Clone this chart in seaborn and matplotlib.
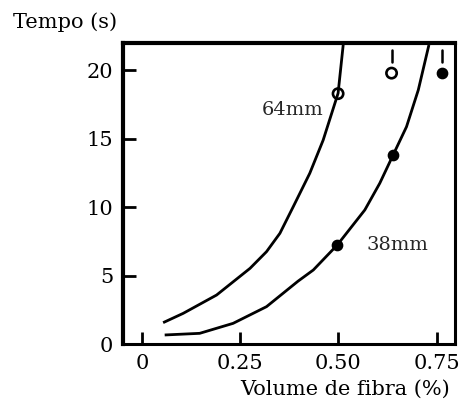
import matplotlib
matplotlib.use("Agg")
import matplotlib.pyplot as plt
import seaborn as sns
import pandas as pd

# ---- data ----
curve64_x = [0.054, 0.105, 0.190, 0.275, 0.317, 0.351, 0.385, 0.427, 0.461, 0.499, 0.512]
curve64_y = [1.56, 2.24, 3.58, 5.53, 6.75, 8.09, 10.04, 12.48, 14.9, 18.33, 21.86]
curve38_x = [0.058, 0.147, 0.232, 0.317, 0.397, 0.436, 0.497, 0.567, 0.605, 0.639, 0.673, 0.703, 0.730]
curve38_y = [0.66, 0.78, 1.51, 2.73, 4.59, 5.41, 7.24, 9.80, 11.75, 13.82, 15.88, 18.57, 21.86]

pts64_x = [0.499, 0.635]
pts64_y = [18.3, 19.8]
pts64_above = [False, True]
pts38_x = [0.497, 0.639, 0.762]
pts38_y = [7.24, 13.82, 19.8]
pts38_above = [False, False, True]

xticks = [0, 0.25, 0.50, 0.75]
xticklabels = ["0", "0.25", "0.50", "0.75"]
yticks = [0, 5, 10, 15, 20]
yticklabels = ["0", "5", "10", "15", "20"]

label64 = "64mm"
label38 = "38mm"
xlabel = "Volume de fibra (%)"
ylabel = "Tempo (s)"

# ---- figure ----
sns.set_theme(style="white")
plt.rcParams["font.family"] = ["DejaVu Serif", "DejaVu Sans"]

fig = plt.figure(figsize=(4.59, 4.04), dpi=100)
ax = fig.add_axes([0.268, 0.1485, 0.723, 0.745])

c64 = pd.DataFrame({"x": curve64_x, "y": curve64_y})
c38 = pd.DataFrame({"x": curve38_x, "y": curve38_y})
for c in (c64, c38):
    sns.lineplot(data=c, x="x", y="y", sort=False, color="black", lw=2.0, ax=ax,
                 solid_joinstyle="round", solid_capstyle="butt")

p64 = pd.DataFrame({"x": pts64_x, "y": pts64_y})
p38 = pd.DataFrame({"x": pts38_x, "y": pts38_y})
sns.scatterplot(data=p64, x="x", y="y", marker="o", s=55, facecolors="none",
                edgecolor="black", linewidth=1.9, ax=ax, zorder=5)
sns.scatterplot(data=p38, x="x", y="y", marker="o", s=55, color="black",
                edgecolor="black", linewidth=1, ax=ax, zorder=5)

# short upward stems for points beyond the scale
for xs, ys, ab in ((pts64_x, pts64_y, pts64_above), (pts38_x, pts38_y, pts38_above)):
    for x, y, a in zip(xs, ys, ab):
        if a:
            ax.plot([x, x], [y + 0.8, y + 1.7], color="black", lw=1.8)

ax.text(0.462, 17.1, label64, ha="right", va="center", fontsize=14)
ax.text(0.572, 7.24, label38, ha="left", va="center", fontsize=14)

ax.set_xlim(-0.048, 0.796)
ax.set_ylim(0, 22)
ax.set_xticks(xticks)
ax.set_xticklabels(xticklabels)
ax.set_yticks(yticks)
ax.set_yticklabels(yticklabels)
ax.tick_params(axis="both", direction="in", length=9, width=2, labelsize=15,
               colors="black", pad=7)
ax.tick_params(axis="x", bottom=True, top=False)
ax.tick_params(axis="y", left=True, right=False)

ax.set_xlabel(xlabel, fontsize=15, color="black")
ax.xaxis.set_label_coords(0.67, -0.12)
ax.set_ylabel("")
fig.text(0.028, 0.945, ylabel, fontsize=15, ha="left", va="center", color="black")

for s in ax.spines.values():
    s.set_visible(True)
    s.set_color("black")
ax.spines["left"].set_linewidth(3)
ax.spines["top"].set_linewidth(3)
ax.spines["bottom"].set_linewidth(2.2)
ax.spines["right"].set_linewidth(2.2)

fig.savefig("out.png", dpi=100, facecolor="white")
